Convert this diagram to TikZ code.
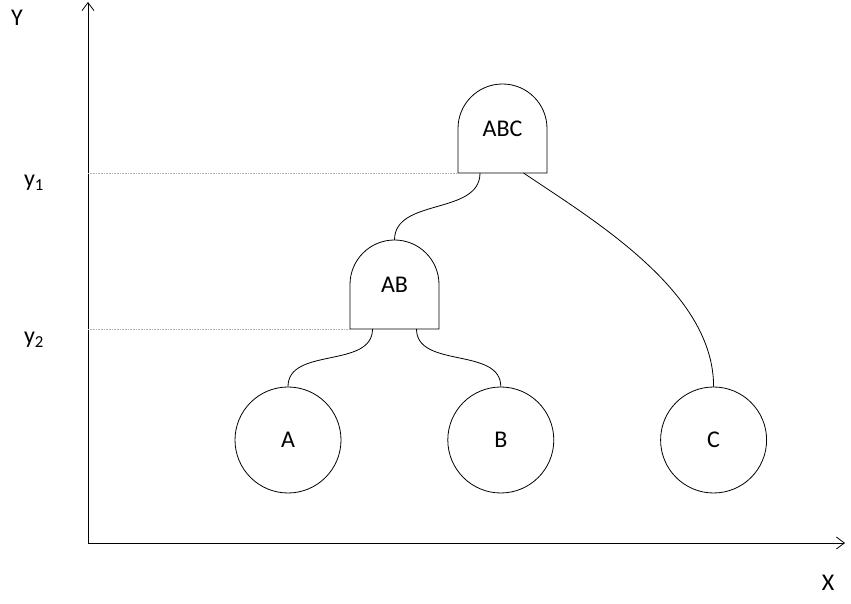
\documentclass[tikz,border=0pt]{standalone}
\usepackage{fontspec}
\setmainfont{Carlito}
\usetikzlibrary{arrows.meta,positioning}

\begin{document}
\begin{tikzpicture}[x=1pt,y=1pt,>={Straight Barb[length=8pt,width=12pt]},
  line width=0.8pt,font=\fontsize{24}{28}\selectfont,
  gatebox/.style={minimum width=89pt,minimum height=89pt,inner sep=0pt,outer sep=0pt},
  leafnode/.style={circle,draw,minimum size=106pt,inner sep=0pt},
  guide/.style={densely dotted,gray!60,line width=0.6pt},
  wire/.style={out=-90,in=90}]
  \useasboundingbox (0,0) rectangle (851,604);
  % axes
  \coordinate (o) at (88,61);
  \coordinate (ytip) at (88,602);
  \coordinate (xtip) at (845,61);
  \draw[->] (o) -- (ytip);
  \draw[->] (o) -- (xtip);
  \node (ylab) at (17,586) {Y};
  \node (xlab) at (828,21) {X};

  \node[gatebox] (abc) at (502.5,475.5) {ABC};
  \node[gatebox] (ab)  at (394.5,319.5) {AB};
  \node[leafnode] (a) at (288,164) {A};
  \node[leafnode] (b) [right=106pt of a] {B};
  \node[leafnode] (c) [right=106pt of b] {C};

  \draw (abc.south west) -- ++(0,44.5) arc (180:0:44.5) -- (abc.south east) -- cycle;
  \draw (ab.south west) -- ++(0,44.5) arc (180:0:44.5) -- (ab.south east) -- cycle;

  % levels
  \node (y1lab) at (34,421) {y\textsubscript{1}};
  \node (y2lab) at (34,264) {y\textsubscript{2}};
  \draw[guide] (o |- abc.south) -- (abc.south west);
  \draw[guide] (o |- ab.south) -- (ab.south west);

  \draw ([xshift=-22.5pt]abc.south) to[wire] (ab.north);
  \draw ([xshift=21pt]abc.south) to[out=-34,in=90,out distance=85pt,in distance=95pt] (c.north);
  \draw ([xshift=-22pt]ab.south) to[wire] (a.north);
  \draw ([xshift=22pt]ab.south) to[wire] (b.north);
\end{tikzpicture}
\end{document}
